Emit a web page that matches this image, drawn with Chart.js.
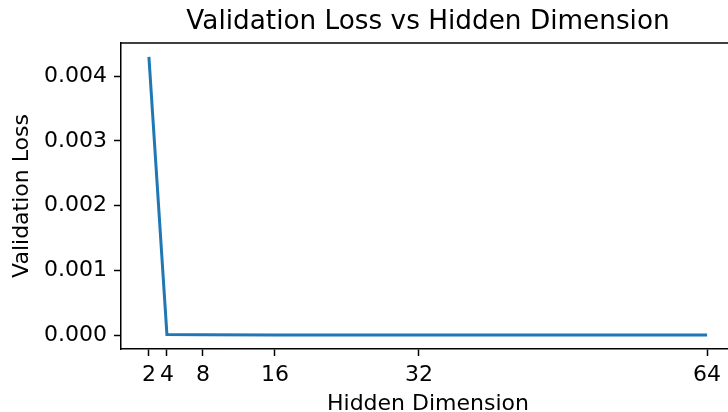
<!DOCTYPE html>
<html lang="en">
<head>
    <meta charset="UTF-8">
    <title>Validation Loss vs Hidden Dimension</title>
    <script src="https://cdn.jsdelivr.net/npm/chart.js"></script>
    <style>
        html, body { margin: 0; padding: 0; background: white; overflow: hidden; }
        #wrap { width: 744px; height: 412px; }
    </style>
</head>
<body>
    <div id="wrap"><canvas id="lossChart" width="744" height="412"></canvas></div>

    <script>
        const hiddenDims = [2, 4, 8, 16, 32, 64];
        const valLoss = [0.0043, 0.00001, 0.000005, 0.000003, 0.000002, 0.000002];
        const xTicks = [2, 4, 8, 16, 32, 64];
        const yTicks = [0, 0.001, 0.002, 0.003, 0.004];

        const font = "'DejaVu Sans', sans-serif";

        // top spine like matplotlib
        const topSpine = {
            id: 'topSpine',
            afterDraw(chart) {
                const { ctx, chartArea } = chart;
                ctx.save();
                ctx.strokeStyle = '#000';
                ctx.lineWidth = 1.5;
                ctx.beginPath();
                ctx.moveTo(chartArea.left, chartArea.top);
                ctx.lineTo(chartArea.right, chartArea.top);
                ctx.stroke();
                ctx.restore();
            }
        };

        new Chart(document.getElementById('lossChart'), {
            type: 'line',
            data: {
                datasets: [{
                    data: hiddenDims.map((d, i) => ({ x: d, y: valLoss[i] })),
                    borderColor: '#1f77b4',
                    borderWidth: 3,
                    pointRadius: 0,
                    tension: 0,
                    fill: false
                }]
            },
            options: {
                responsive: false,
                animation: false,
                layout: { padding: { left: 0, right: 9, top: 0, bottom: 0 } },
                plugins: {
                    legend: { display: false },
                    tooltip: { enabled: false },
                    title: {
                        display: true,
                        text: 'Validation Loss vs Hidden Dimension',
                        fullSize: false,
                        color: '#000',
                        font: { family: font, size: 26.3, weight: 'normal', lineHeight: 1.1 },
                        padding: { top: 8, bottom: 6 }
                    }
                },
                scales: {
                    x: {
                        type: 'linear',
                        min: -1.1,
                        max: 67.1,
                        afterBuildTicks: axis => { axis.ticks = xTicks.map(v => ({ value: v })); },
                        afterFit: axis => { axis.height = 63; },
                        grid: { display: true, drawOnChartArea: false, drawTicks: true, tickLength: 7, color: '#000', tickWidth: 1.5 },
                        border: { display: true, color: '#000', width: 1.5 },
                        ticks: { color: '#000', font: { family: font, size: 22, lineHeight: 1.1 }, padding: 7, maxRotation: 0, autoSkip: false },
                        title: { display: true, text: 'Hidden Dimension', color: '#000', font: { family: font, size: 22, lineHeight: 1.1 }, padding: { top: 8, bottom: -4 } }
                    },
                    y: {
                        type: 'linear',
                        min: -0.000215,
                        max: 0.004515,
                        afterBuildTicks: axis => { axis.ticks = yTicks.map(v => ({ value: v })); },
                        afterFit: axis => { axis.width = 121; },
                        grid: { display: true, drawOnChartArea: false, drawTicks: true, tickLength: 7, color: '#000', tickWidth: 1.5 },
                        border: { display: true, color: '#000', width: 1.5 },
                        ticks: { color: '#000', font: { family: font, size: 22 }, padding: 7, callback: v => v.toFixed(3) },
                        title: { display: true, text: 'Validation Loss', color: '#000', font: { family: font, size: 22, lineHeight: 1.1 }, padding: { top: 10, bottom: 4 } }
                    }
                }
            },
            plugins: [topSpine]
        });
    </script>
</body>
</html>
